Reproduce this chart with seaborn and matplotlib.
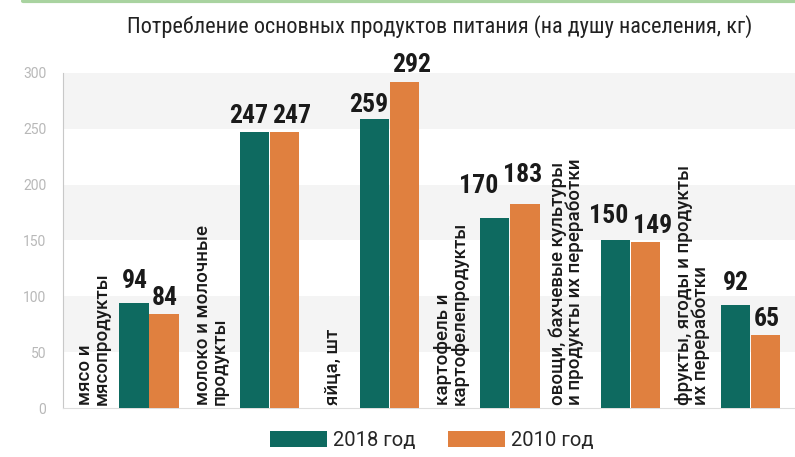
import matplotlib
matplotlib.use("Agg")
import matplotlib.pyplot as plt
import matplotlib.font_manager as fm
import seaborn as sns
import pandas as pd
from matplotlib.lines import Line2D
from matplotlib.patches import Patch

categories = [
    "мясо и\nмясопродукты",
    "молоко и молочные\nпродукты",
    "яйца, шт",
    "картофель и\nкартофелепродукты",
    "овощи, бахчевые культуры\nи продукты их переработки",
    "фрукты, ягоды и продукты\nих переработки",
]
values_2018 = [94, 247, 259, 170, 150, 92]
values_2010 = [84, 247, 292, 183, 149, 65]
series = ["2018 год", "2010 год"]
yticks = [0, 50, 100, 150, 200, 250, 300]
title = "Потребление основных продуктов питания (на душу населения, кг)"

# label placement tweaks (styling): lift in axis units, shift in pixels
lift_2018 = [9, 4, 2, 18, 11, 9]
lift_2010 = [4, 4, 4, 15, 3, 4]
shift_2018 = [0, 0, 0, -10, 0, 0]
shift_2010 = [0, 0, 0, -10, 0, 0]

TEAL = "#0e6a60"
ORANGE = "#e0803f"

ttf = fm.fontManager.ttflist
names = {f.name for f in ttf}
COND = ["DejaVu Sans"]
for cand in ["Roboto Condensed", "Liberation Sans Narrow", "Open Sans Condensed"]:
    if cand in names:
        COND = [cand, "DejaVu Sans"]
        break
REG = ["Roboto", "DejaVu Sans"] if "Roboto" in names else ["DejaVu Sans"]

rows = []
for c, a, b in zip(categories, values_2018, values_2010):
    rows.append({"cat": c, "series": series[0], "value": a})
    rows.append({"cat": c, "series": series[1], "value": b})
df = pd.DataFrame(rows)

sns.set_style("white")
plt.rcParams["font.family"] = ["DejaVu Sans"]

fig = plt.figure(figsize=(7.95, 4.57), dpi=100)
ax = fig.add_axes([63 / 795, 49 / 457, 732 / 795, 335 / 457])

for lo in range(0, 300, 50):
    if (lo // 50) % 2 == 1:
        ax.axhspan(lo, lo + 50, color="#f4f4f4", zorder=0, lw=0)

sns.barplot(data=df, x="cat", y="value", hue="series", order=categories,
            hue_order=series, palette=[TEAL, ORANGE], width=0.5, gap=0.03,
            ax=ax, legend=False, zorder=3, saturation=1, linewidth=0,
            edgecolor="none")

ax.set_xlim(-0.715, 5.37)
ax.set_ylim(0, 300)
ax.set_xlabel("")
ax.set_ylabel("")
ax.set_xticks([])
ax.set_yticks(yticks)
ax.set_yticklabels([str(t) for t in yticks], color="#b8b8b8", fontsize=10,
                   family=REG)
ax.tick_params(axis="y", direction="inout", length=12, width=0.8,
               color="#c8c8c8", pad=6)
for s in ["top", "right"]:
    ax.spines[s].set_visible(False)
ax.spines["left"].set_color("#c8c8c8")
ax.spines["bottom"].set_color("#dddddd")

lifts = [lift_2018, lift_2010]
shifts = [shift_2018, shift_2010]
px = 1 / 120.2  # one pixel in x data units
for k, cont in enumerate(ax.containers):
    for i, bar in enumerate(cont):
        h = bar.get_height()
        if k == 0:
            x, ha = bar.get_x() + bar.get_width() - px, "right"
        else:
            x, ha = bar.get_x() + 2.5 * px, "left"
        x += shifts[k][i] * px
        ax.text(x, h + lifts[k][i], f"{int(round(h))}",
                ha=ha, va="bottom", fontsize=18.5, fontweight="bold",
                family=COND, color="#1a1a1a", clip_on=False, zorder=5)

offsets = [-0.61, -0.63, -0.55, -0.63, -0.68, -0.63]
for i, (c, off) in enumerate(zip(categories, offsets)):
    ax.text(i + off, 3, c, rotation=90, ha="left", va="bottom",
            multialignment="left", fontsize=13.5, color="#1a1a1a",
            family=REG, fontweight="medium", linespacing=0.92, zorder=5)

fig.text(0.553, 0.941, title, ha="center", va="center", fontsize=16,
         color="#222222", family=COND)

fig.add_artist(Line2D([23 / 795, 1.0], [0.997, 0.997], color="#a9d3a0",
                      lw=3, transform=fig.transFigure))

handles = [Patch(facecolor=TEAL, edgecolor="none"),
           Patch(facecolor=ORANGE, edgecolor="none")]
fig.legend(handles, series, loc="center", bbox_to_anchor=(0.543, 0.037),
           ncol=2, frameon=False, handlelength=2.85,
           handleheight=0.85, columnspacing=1.6, handletextpad=0.3,
           prop={"family": REG, "size": 14.5})

fig.savefig("out.png", dpi=100)
